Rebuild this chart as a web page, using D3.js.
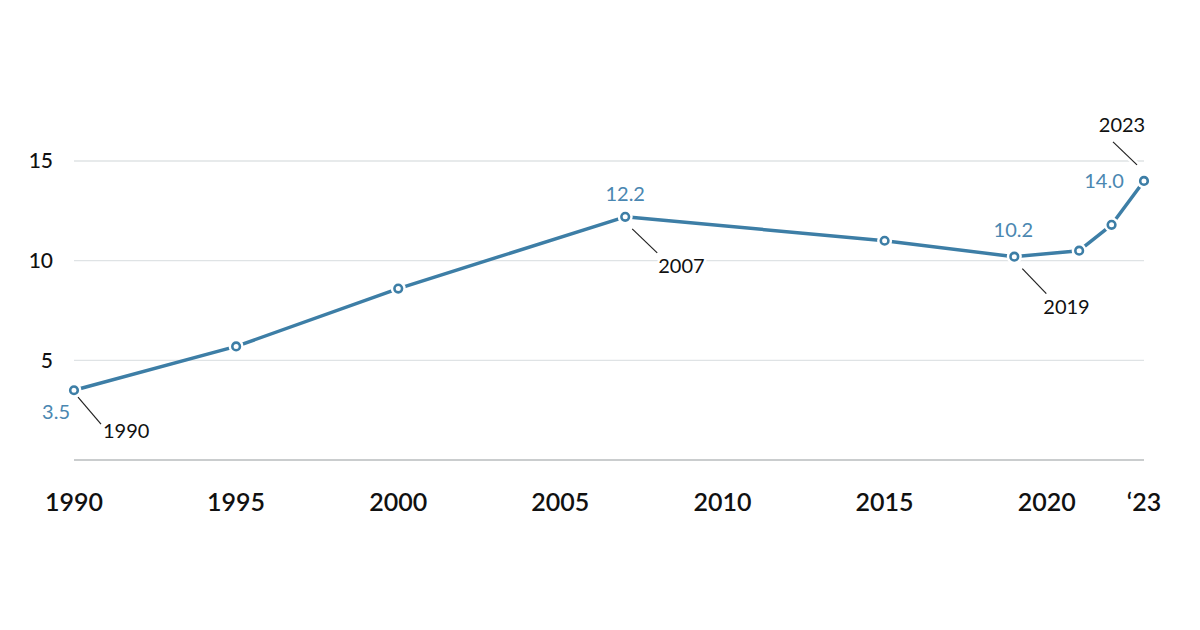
<!DOCTYPE html>
<html><head><meta charset="utf-8">
<script src="https://cdn.jsdelivr.net/npm/d3@7"></script>
<style>
html,body{margin:0;padding:0;background:#fff;}
svg{display:block;font-family:Lato,"Noto Sans",sans-serif;}
</style></head>
<body>
<svg id="c" width="1200" height="630"></svg>
<script>
const years = [1990, 1995, 2000, 2007, 2015, 2019, 2021, 2022, 2023];
const values = [3.5, 5.7, 8.6, 12.2, 11.0, 10.2, 10.5, 11.8, 14.0];
const xTicks = [1990, 1995, 2000, 2005, 2010, 2015, 2020, 2023];
const xTickLabels = ["1990", "1995", "2000", "2005", "2010", "2015", "2020", "\u201823"];
const yTicks = [5, 10, 15];
const valueLabels = [
  {year: 1990, text: "3.5", dx: -4, dy: 22, anchor: "end"},
  {year: 2007, text: "12.2", dx: 0, dy: -23, anchor: "middle"},
  {year: 2019, text: "10.2", dx: -1, dy: -27, anchor: "middle"},
  {year: 2023, text: "14.0", dx: -40, dy: 0, anchor: "middle"}
];
const yearLabels = [
  {year: 1990, text: "1990", lx1: 4, ly1: 7, lx2: 27, ly2: 34, tx: 29, ty: 48, anchor: "start"},
  {year: 2007, text: "2007", lx1: 7, ly1: 12, lx2: 32, ly2: 36, tx: 33, ty: 56, anchor: "start"},
  {year: 2019, text: "2019", lx1: 8, ly1: 12, lx2: 32, ly2: 37, tx: 29, ty: 57, anchor: "start"},
  {year: 2023, text: "2023", lx1: -7, ly1: -16, lx2: -31, ly2: -39, tx: -22, ty: -49, anchor: "middle"}
];

const svg = d3.select("#c");
const x = d3.scaleLinear().domain([1990, 2023]).range([74, 1144]);
const y = d3.scaleLinear().domain([0, 15]).range([460, 161]);
const blue = "#3d7ea6";
const lblue = "#4a87b1";

svg.append("g").selectAll("line").data(yTicks).join("line")
  .attr("x1", x(1990)).attr("x2", x(2023))
  .attr("y1", d => y(d)).attr("y2", d => y(d))
  .attr("stroke", "#dfe3e5").attr("stroke-width", 1.3);
svg.append("line").attr("x1", x(1990)).attr("x2", x(2023))
  .attr("y1", y(0)).attr("y2", y(0)).attr("stroke", "#b9bcbe").attr("stroke-width", 1.6);

svg.append("g").selectAll("text").data(yTicks).join("text")
  .attr("x", 53).attr("y", d => y(d)).attr("dy", "0.35em")
  .attr("text-anchor", "end").attr("font-size", 21).attr("font-weight", 500).attr("fill", "#111")
  .text(d => d);

svg.append("g").selectAll("text").data(xTicks).join("text")
  .attr("x", d => x(d)).attr("y", 511)
  .attr("text-anchor", "middle").attr("font-size", 25).attr("font-weight", 600).attr("fill", "#111")
  .text((d, i) => xTickLabels[i]);

const pts = years.map((yr, i) => ({yr, v: values[i]}));
const find = yr => pts.find(p => p.yr === yr);

const ann = svg.append("g");
yearLabels.forEach(a => {
  const p = find(a.year);
  const px = x(p.yr), py = y(p.v);
  ann.append("line").attr("x1", px + a.lx1).attr("y1", py + a.ly1)
    .attr("x2", px + a.lx2).attr("y2", py + a.ly2)
    .attr("stroke", "#fff").attr("stroke-width", 6);
  ann.append("line").attr("x1", px + a.lx1).attr("y1", py + a.ly1)
    .attr("x2", px + a.lx2).attr("y2", py + a.ly2)
    .attr("stroke", "#222").attr("stroke-width", 1.2);
  ann.append("text").attr("x", px + a.tx).attr("y", py + a.ty)
    .attr("text-anchor", a.anchor).attr("font-size", 20).attr("fill", "#111")
    .attr("stroke", "#fff").attr("stroke-width", 5).attr("paint-order", "stroke")
    .text(a.text);
});
valueLabels.forEach(a => {
  const p = find(a.year);
  ann.append("text").attr("x", x(p.yr) + a.dx).attr("y", y(p.v) + a.dy).attr("dy", "0.35em")
    .attr("text-anchor", a.anchor).attr("font-size", 20).attr("fill", lblue)
    .attr("stroke", "#fff").attr("stroke-width", 5).attr("paint-order", "stroke")
    .text(a.text);
});

const line = d3.line().x(d => x(d.yr)).y(d => y(d.v));
svg.append("path").datum(pts).attr("d", line).attr("fill", "none")
  .attr("stroke", blue).attr("stroke-width", 3.5).attr("stroke-linejoin", "round");

svg.append("g").selectAll("circle.h").data(pts).join("circle")
  .attr("cx", d => x(d.yr)).attr("cy", d => y(d.v)).attr("r", 7.5).attr("fill", "#fff");
svg.append("g").selectAll("circle.m").data(pts).join("circle")
  .attr("cx", d => x(d.yr)).attr("cy", d => y(d.v)).attr("r", 3.8)
  .attr("fill", "#fff").attr("stroke", blue).attr("stroke-width", 2.6);
</script>
</body></html>
